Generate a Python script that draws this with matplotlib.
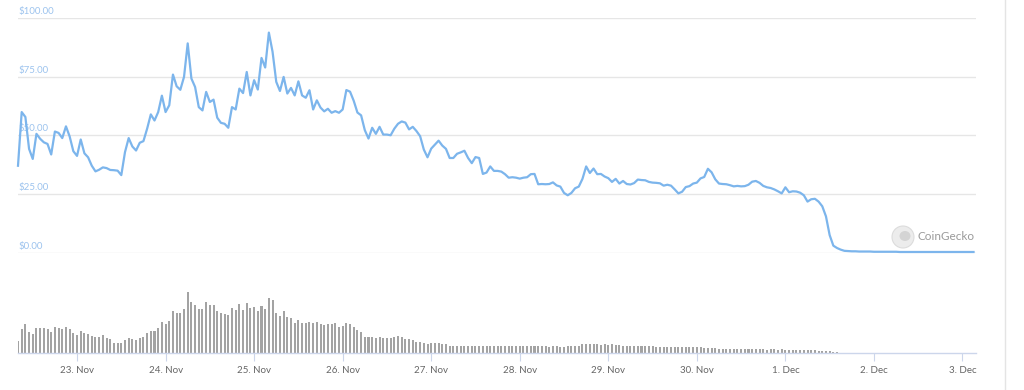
import pandas as pd
import matplotlib
matplotlib.use("Agg")
import matplotlib.pyplot as plt
import matplotlib.dates as mdates
from matplotlib.patches import Ellipse
from matplotlib.lines import Line2D

# hourly price in USD (22 Nov 08:00 -> 3 Dec 03:00)
price = [
    37.1, 60.0, 57.9, 44.3, 40.0, 50.7, 48.6, 47.1, 46.4, 41.9, 51.7, 51.1, 48.9, 53.9, 49.6,
    43.3, 41.3, 48.3, 42.4, 40.7, 37.1, 34.7, 35.4, 36.4, 36.1, 35.3, 35.2, 35.0, 33.1, 42.9,
    48.9, 45.3, 43.6, 46.9, 47.6, 52.9, 59.0, 56.4, 60.0, 67.0, 60.0, 62.9, 76.0, 71.0, 69.5,
    75.0, 89.3, 74.3, 70.7, 62.1, 60.7, 68.6, 64.3, 65.3, 57.6, 55.4, 55.0, 53.3, 62.1, 61.1,
    70.0, 68.1, 77.1, 67.1, 73.6, 69.6, 83.1, 79.0, 93.9, 85.7, 72.9, 69.0, 75.0, 67.9, 70.3,
    67.1, 73.1, 67.1, 66.1, 69.3, 61.1, 65.0, 61.9, 60.3, 61.4, 59.7, 60.4, 59.7, 61.1, 69.4,
    68.7, 64.8, 59.8, 58.6, 52.3, 48.7, 53.3, 50.7, 53.7, 50.4, 50.4, 50.1, 52.9, 55.0, 56.0,
    55.5, 52.6, 53.7, 51.9, 49.7, 44.0, 40.7, 44.4, 46.1, 47.8, 45.7, 44.3, 40.4, 40.4, 42.2,
    42.8, 43.5, 40.4, 38.2, 40.8, 40.4, 33.6, 34.2, 36.8, 34.9, 34.9, 34.6, 33.5, 32.0, 32.2,
    32.0, 31.6, 32.0, 32.2, 33.5, 33.6, 29.2, 29.3, 29.2, 29.3, 30.0, 28.7, 28.2, 25.5, 24.5,
    25.5, 27.5, 28.2, 31.5, 36.8, 34.0, 35.9, 33.5, 33.6, 32.5, 31.8, 30.2, 31.5, 29.5, 30.6,
    29.3, 29.1, 29.7, 31.2, 31.0, 30.9, 30.2, 29.9, 29.8, 29.6, 28.6, 29.0, 28.6, 27.0, 25.3,
    26.0, 28.0, 28.4, 29.5, 29.9, 31.7, 32.3, 35.8, 34.3, 31.3, 29.5, 29.3, 29.2, 28.8, 28.3,
    28.5, 28.3, 28.4, 29.0, 30.3, 30.6, 29.8, 28.5, 27.9, 27.6, 27.0, 26.2, 25.3, 27.9, 25.8,
    26.2, 26.1, 25.6, 24.5, 21.8, 22.8, 23.0, 21.8, 19.8, 15.5, 7.5, 3.0, 2.0, 1.3, 0.8,
    0.7, 0.6, 0.6, 0.5, 0.5, 0.5, 0.5, 0.4, 0.4, 0.4, 0.4, 0.4, 0.4, 0.4, 0.3,
    0.3, 0.3, 0.3, 0.3, 0.3, 0.3, 0.3, 0.3, 0.3, 0.3, 0.3, 0.3, 0.3, 0.3, 0.3,
    0.3, 0.3, 0.3, 0.3, 0.3,
]

# hourly trading volume (relative units, no scale shown on the chart)
volume = [
    12.7, 24, 29, 21.7, 19, 25.7, 25.7, 25, 24, 21.7, 26.7, 25, 24, 26.7, 24,
    20, 18.3, 22.3, 20, 19, 17.7, 16.7, 16.7, 18.3, 15.7, 14, 10.7, 10, 10, 13.3,
    15, 14.3, 13.3, 15, 16, 20, 22.3, 22.3, 25.7, 31.7, 29, 32.3, 42.3, 40, 40.7,
    44.3, 61, 51, 48.3, 44, 44.3, 51.7, 48.3, 48.3, 42.3, 40, 39.3, 38.3, 45, 43.3,
    49, 43.3, 50, 45, 46.7, 42.7, 47.7, 44.3, 55.7, 53, 40, 37.7, 42.3, 36, 35,
    30, 33.3, 30, 30, 31.7, 30, 31.7, 29, 28.3, 29, 29, 30, 26.7, 27.3, 30,
    29, 26.7, 23.3, 21.7, 16.7, 16, 16.7, 15.7, 16.7, 15.3, 15.7, 15.7, 16, 17.3, 16.7,
    14, 14, 13.3, 11.7, 11, 10, 9.3, 10, 10, 10, 9.3, 9.3, 7.3, 7.3, 7,
    7.3, 7, 7, 7.3, 7, 7, 7.3, 7, 7.7, 7.3, 7, 7.3, 7, 7.3, 7.3,
    7, 7.3, 7.3, 7, 7.3, 7, 7, 7.3, 7.3, 6.7, 7, 7, 6.7, 6.7, 7,
    7.3, 7, 7.7, 9.3, 9, 9.3, 9, 9.3, 8.7, 9, 8.7, 9, 8.3, 8.3, 7.7,
    7.7, 7.3, 7.3, 7.7, 7.3, 7, 7, 7, 6.7, 6.7, 6.7, 6.7, 6.3, 6.3, 6.7,
    6.3, 6.3, 6.7, 6.7, 6.3, 6.3, 5.7, 5.7, 5.3, 5.3, 4.7, 4.3, 4.3, 4.7, 4.3,
    4.3, 4.3, 4, 4.3, 4.3, 4, 4, 4.3, 3.7, 4, 4, 3.3, 4, 3.3, 3.3,
    3, 3.3, 3.3, 3, 3.3, 3.7, 3.3, 2.7, 2.7, 2.3, 2, 1.3, 1.3, 0.7, 0.7,
    0, 0, 0, 0, 0, 0, 0, 0, 0, 0, 0, 0, 0, 0, 0,
    0, 0, 0, 0, 0, 0, 0, 0, 0, 0, 0, 0, 0, 0, 0,
    0, 0, 0, 0, 0,
]

price_ticks = [0, 25, 50, 75, 100]
price_labels = ["$0.00", "$25.00", "$50.00", "$75.00", "$100.00"]

times = pd.date_range("2021-11-22 08:00", periods=len(price), freq="h")

plt.rcParams["font.family"] = ["Lato", "DejaVu Sans"]

W, H = 1024, 390
fig = plt.figure(figsize=(W / 100, H / 100), dpi=100)
fig.patch.set_facecolor("white")

left = 18 / W
width = (976 - 18) / W
xmin = times[0]
xmax = times[-1] + pd.Timedelta(minutes=40)

# price panel
ax = fig.add_axes([left, (H - 252.7) / H, width, 234.4 / H])
ax.plot(times, price, color="#7cb5ec", lw=1.6, zorder=3, clip_on=False)
ax.set_ylim(0, 100)
ax.set_xlim(xmin, xmax)
ax.set_yticks(price_ticks)
ax.yaxis.grid(True, color="#e6e6e6", lw=1)
ax.set_axisbelow(True)
ax.tick_params(left=False, bottom=False, labelleft=False, labelbottom=False)
for s in ax.spines.values():
    s.set_visible(False)
for v, lab in zip(price_ticks, price_labels):
    ax.annotate(lab, xy=(0, v), xycoords=("axes fraction", "data"),
                xytext=(0, 1.5), textcoords="offset points",
                ha="left", va="bottom", fontsize=7, color="#9cc3ee", zorder=1)

# volume panel
axv = fig.add_axes([left, (H - 353.3) / H, width, 62 / H])
axv.bar(times, volume, width=0.55 / 24, color="#a3a3a3", align="center")
axv.set_ylim(0, 62)
axv.set_xlim(xmin, xmax)
for s in ["top", "left", "right"]:
    axv.spines[s].set_visible(False)
axv.spines["bottom"].set_color("#ccd6eb")
axv.spines["bottom"].set_linewidth(1)
axv.set_yticks([])
axv.xaxis.set_major_locator(mdates.DayLocator())
axv.xaxis.set_major_formatter(
    plt.FuncFormatter(lambda x, pos: f"{mdates.num2date(x).day}. {mdates.num2date(x):%b}"))
axv.tick_params(axis="x", length=6, color="#ccd6eb", labelsize=7,
                labelcolor="#666666", pad=3)

# CoinGecko watermark
fig.add_artist(Ellipse((903 / W, 1 - 237 / H), 22 / W, 22 / H,
                       facecolor="#ececec", edgecolor="#dcdcdc", lw=0.8))
fig.add_artist(Ellipse((905 / W, 1 - 236 / H), 11 / W, 10 / H,
                       facecolor="#d4d4d4", edgecolor="none"))
fig.text(918 / W, 1 - 237 / H, "CoinGecko", fontsize=8.5, color="#9a9a9a",
         ha="left", va="center")

# page frame on the right
fig.add_artist(Line2D([1005 / W, 1005 / W], [0, 1], color="#e4e4e4", lw=1))

fig.savefig("out.png", dpi=100)
